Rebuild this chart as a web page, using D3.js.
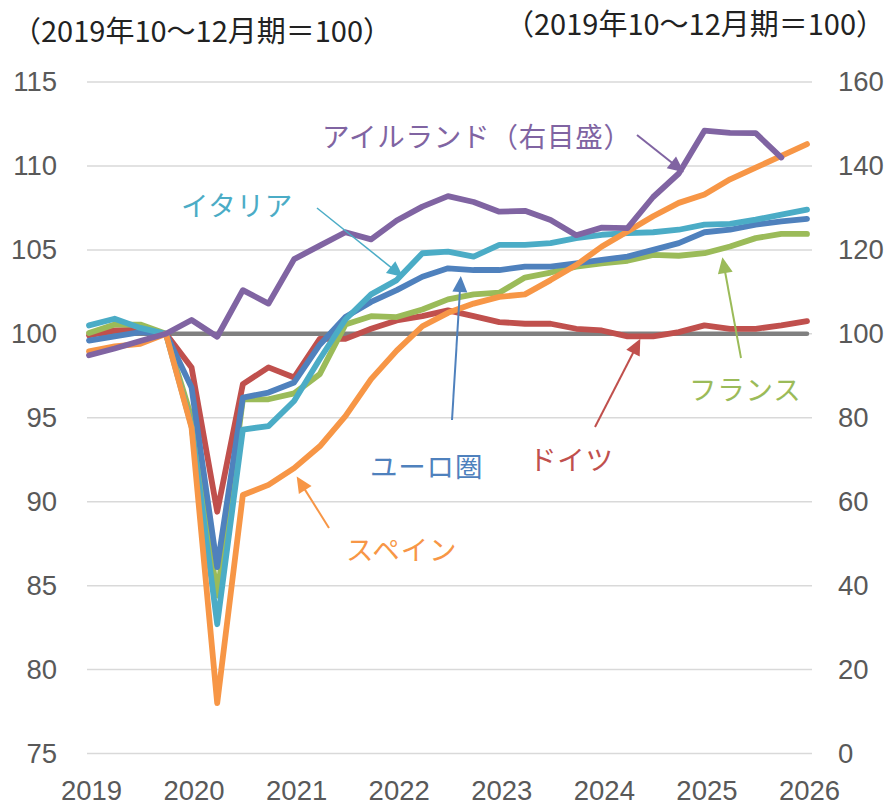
<!DOCTYPE html>
<html><head><meta charset="utf-8">
<script src="https://cdn.jsdelivr.net/npm/d3@7"></script>
<style>
html,body{margin:0;padding:0;background:#fff;}
svg{display:block;font-family:"Noto Sans CJK JP","Noto Sans",sans-serif;}
</style></head>
<body>
<svg id="chart" width="892" height="809"></svg>
<script>
// ---- data (quarterly, 2019Q1 ... 2026Q1) ----
const quarters = d3.range(29); // 0 = 2019Q1
const yearLabels = ["2019","2020","2021","2022","2023","2024","2025","2026"];
const leftTicks = [75,80,85,90,95,100,105,110,115];
const rightTicks = [0,20,40,60,80,100,120,140,160];
const baseline = quarters.map(() => 100);
const germany = [99.9,100.2,100.25,100,98.0,89.4,97.0,98.0,97.4,99.7,99.7,100.3,100.8,101.05,101.4,101.05,100.7,100.6,100.6,100.3,100.2,99.85,99.85,100.1,100.5,100.3,100.3,100.5,100.75];
const france = [100.05,100.55,100.55,100,95.0,84.4,96.1,96.1,96.45,97.6,100.55,101.05,101.0,101.45,102.05,102.35,102.45,103.35,103.65,104.0,104.2,104.35,104.7,104.65,104.8,105.2,105.7,105.95,105.95];
const euroArea = [99.6,99.85,100.1,100,96.8,86.1,96.2,96.5,97.1,99.35,101.0,101.9,102.6,103.4,103.9,103.8,103.8,104.0,104.0,104.2,104.4,104.6,105.0,105.4,106.05,106.2,106.5,106.7,106.85];
const italy = [100.5,100.9,100.35,100,94.5,82.7,94.3,94.5,96.0,98.5,100.85,102.35,103.2,104.8,104.9,104.6,105.3,105.3,105.4,105.7,105.9,106.0,106.05,106.2,106.5,106.55,106.8,107.1,107.4];
const spain = [98.95,99.25,99.4,100,94.4,78.0,90.4,91.0,92.0,93.3,95.1,97.3,99.0,100.45,101.25,101.8,102.2,102.35,103.2,104.1,105.2,106.1,107.0,107.8,108.3,109.2,109.9,110.6,111.3];
const ireland = [94.9,96.5,98.3,100,103.3,99.3,110.4,107.2,117.8,121.0,124.2,122.5,127.0,130.3,132.8,131.4,129.1,129.3,127.1,123.5,125.3,125.2,132.6,138.2,148.4,147.9,147.8,142.0]; // right axis

const unitTitle = "（2019年10～12月期＝100）";

// ---- layout ----
const svg = d3.select("#chart");
const x = d3.scaleLinear().domain([0,28]).range([89,807]);
const yL = d3.scaleLinear().domain([75,115]).range([753.5,82]);
const yR = d3.scaleLinear().domain([0,160]).range([753.5,82]);
const gridX0 = 87, gridX1 = 812;

// gridlines
svg.append("g").selectAll("line").data(leftTicks).join("line")
  .attr("x1",gridX0).attr("x2",gridX1)
  .attr("y1",d=>yL(d)).attr("y2",d=>yL(d))
  .attr("stroke","#d9d9d9").attr("stroke-width",1.5);

// axes
const tickFont = g => g.selectAll("text").attr("font-size",27.5).attr("fill","#595959").attr("font-weight",300);
const axL = svg.append("g").attr("transform",`translate(${gridX0},0)`)
  .call(d3.axisLeft(yL).tickValues(leftTicks).tickSize(0).tickPadding(30).tickFormat(d3.format("d")));
axL.select(".domain").remove(); tickFont(axL);
const axR = svg.append("g").attr("transform",`translate(${gridX1},0)`)
  .call(d3.axisRight(yR).tickValues(rightTicks).tickSize(0).tickPadding(26).tickFormat(d3.format("d")));
axR.select(".domain").remove(); tickFont(axR);
const axB = svg.append("g").attr("transform",`translate(2,780)`)
  .call(d3.axisBottom(x).tickValues(d3.range(0,29,4)).tickSize(0).tickPadding(0).tickFormat((d,i)=>yearLabels[i]));
axB.select(".domain").remove(); tickFont(axB);

// titles
svg.append("text").attr("x",12).attr("y",29).attr("dominant-baseline","central")
  .attr("font-size",29).attr("fill","#222").text(unitTitle);
svg.append("text").attr("x",505).attr("y",22).attr("dominant-baseline","central")
  .attr("font-size",29).attr("fill","#222").text(unitTitle);

// lines
const lineL = d3.line().x((d,i)=>x(i)).y(d=>yL(d));
const lineR = d3.line().x((d,i)=>x(i)).y(d=>yR(d));
const series = [
  {data:baseline, color:"#808080", w:4.5, line:lineL},
  {data:germany, color:"#C0504D", w:5.8, line:lineL},
  {data:france, color:"#9BBB59", w:5.8, line:lineL},
  {data:euroArea, color:"#4F81BD", w:5.8, line:lineL},
  {data:italy, color:"#4BACC6", w:5.8, line:lineL},
  {data:spain, color:"#F79646", w:5.8, line:lineL},
  {data:ireland, color:"#8064A2", w:5.8, line:lineR}
];
svg.append("g").selectAll("path").data(series).join("path")
  .attr("d",s=>s.line(s.data)).attr("fill","none")
  .attr("stroke",s=>s.color).attr("stroke-width",s=>s.w)
  .attr("stroke-linejoin","round").attr("stroke-linecap","round");

// annotations: label text + arrow (tip in data coords)
const annotations = [
  {text:"アイルランド（右目盛）", color:"#8064A2", tx:322, ty:135, from:[637,135], tip:[23.2,138.5], axis:"R", w:2},
  {text:"イタリア", color:"#4BACC6", tx:181, ty:204, from:[317,208], tip:[12.25,103.38], axis:"L", w:1.5},
  {text:"ユーロ圏", color:"#4F81BD", tx:370, ty:465, from:[452,420], tip:[14.5,103.44], axis:"L", w:2},
  {text:"スペイン", color:"#F79646", tx:346, ty:548, from:[329,528], tip:[8.1,91.5], axis:"L", w:2},
  {text:"ドイツ", color:"#C0504D", tx:529, ty:458, from:[595,427], tip:[21.5,99.7], axis:"L", w:2},
  {text:"フランス", color:"#9BBB59", tx:689, ty:388, from:[741,358], tip:[24.7,104.56], axis:"L", w:2}
];
const ag = svg.append("g");
annotations.forEach(a=>{
  const tx = x(a.tip[0]), ty = (a.axis==="R"?yR:yL)(a.tip[1]);
  const [fx,fy] = a.from;
  const dx = tx-fx, dy = ty-fy, L = Math.hypot(dx,dy);
  const ux = dx/L, uy = dy/L, hl = 16, hw = 7.5;
  const bx = tx-ux*hl, by = ty-uy*hl;
  ag.append("line").attr("x1",fx).attr("y1",fy).attr("x2",bx+ux*2).attr("y2",by+uy*2)
    .attr("stroke",a.color).attr("stroke-width",a.w);
  ag.append("path").attr("d",`M${tx},${ty}L${bx-uy*hw},${by+ux*hw}L${bx+uy*hw},${by-ux*hw}Z`)
    .attr("fill",a.color);
  ag.append("text").attr("x",a.tx).attr("y",a.ty).attr("dominant-baseline","central")
    .attr("font-size",27.5).attr("fill",a.color).attr("letter-spacing",0.8).text(a.text);
});
</script>
</body></html>
